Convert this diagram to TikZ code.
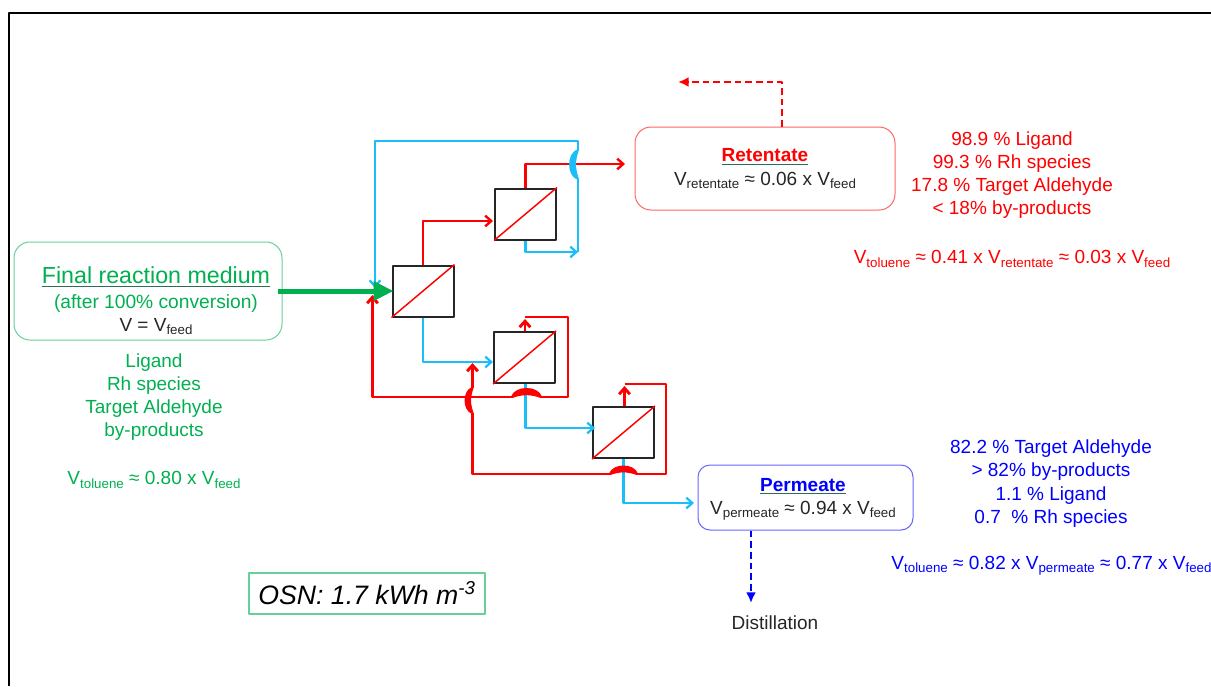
\documentclass[tikz,border=0pt]{standalone}
\usepackage{fontspec}
\setmainfont{Liberation Sans}
\usepackage{tikz}
\usetikzlibrary{arrows.meta}

\definecolor{feedgreen}{HTML}{00B050}
\definecolor{boxgreen}{HTML}{66CF9A}
\definecolor{boxred}{HTML}{FF6565}
\definecolor{boxblue}{HTML}{6565FF}
\definecolor{pipeblue}{HTML}{1CBEFA}
\definecolor{darktext}{HTML}{262626}
\definecolor{linegreen}{HTML}{2F6B55}

\newcommand{\vsub}[1]{\raisebox{-0.32ex}{\fontsize{10}{10}\selectfont #1}}
\newcommand{\headline}[2]{{\color{linegreen}\underline{\textcolor{#1}{#2}}}}

\begin{document}
\begin{tikzpicture}[
            x = 0.75pt,
            y = -0.75pt,
            >={Straight Barb[length=4.5pt, width=8pt]},
            line join = round,
            body/.style = {
                align=center,
                inner sep = 0pt,
                font = \fontsize{14.25}{17.45}\selectfont,
            },
            unit/.style = {
                draw = darktext, rectangle,
                line width = 1.5pt,
                inner sep = 0pt,
                minimum width = 45.75pt,
                minimum height = 38.25pt,
            },
            stream/.style = {
                body,
                draw, rounded corners = 12pt,
                line width = 0.75pt,
            },
            bluepipe/.style = {draw = pipeblue, line width = 1.7pt},
            redpipe/.style = {draw = red, line width = 1.8pt},
            recycle/.style = {draw = red, line width = 2.2pt},
            bluebump/.style = {draw = pipeblue, fill = pipeblue, line width = 1.4pt},
            redbump/.style = {draw = red, fill = red, line width = 1.6pt},
            dashpipe/.style = {line width = 2.2pt, dash pattern = on 5pt off 3pt,
                -{Latex[length = 8pt, width = 7.5pt]}},
        ]
        \useasboundingbox (0, 0) rectangle (1211, 686);

        % Frame
        \coordinate (frame_bottom) at (9, 686);
        \coordinate (frame_corner) at (9, 13);
        \coordinate (frame_right) at (1211, 13);
        \draw[line width = 1.5pt] (frame_bottom) -- (frame_corner) -- (frame_right);

        % Membranes
        \node[unit] (stage_1) at (423, 291) {};
        \node[unit] (stage_2) at (525.5, 214) {};
        \node[unit] (stage_3) at (524.5, 357.5) {};
        \node[unit] (stage_4) at (623.5, 432.5) {};
        \foreach \stage in {stage_1, stage_2, stage_3, stage_4}
            \draw[red, line width = 1.1pt] (\stage.south west) -- (\stage.north east);

        % Streams
        \node[stream, draw = boxgreen, minimum width = 201pt, minimum height = 73.5pt] (final) at (148, 291) {};
        \node[body] (final_label) at (156, 301) {%
            {\color{feedgreen}\fontsize{17.4}{19}\selectfont\headline{feedgreen}{Final reaction medium}}\\[1pt]
            {\color{feedgreen}\fontsize{14.4}{17}\selectfont (after 100\% conversion)}\\
            {\color{darktext}V = V\vsub{feed}}};
        \node[stream, draw = boxred, minimum width = 195pt, minimum height = 62.25pt] (retentate) at (765, 168.5) {%
            {\color{red}\bfseries\headline{red}{Retentate}}\\
            {\color{darktext}V\vsub{retentate} ≈ 0.06 x V\vsub{feed}}};
        \node[stream, draw = boxblue, rounded corners = 9pt, minimum width = 161.25pt, minimum height = 48.75pt] (permeate) at (805.5, 497.5) {};
        \node[body] (permeate_label) at (803, 499.5) {%
            {\color{blue}\bfseries\headline{blue}{Permeate}}\\
            {\color{darktext}V\vsub{permeate} ≈ 0.94 x V\vsub{feed}}};

        % Compositions
        \node[body, text = feedgreen] (feed_list) at (154, 397) {Ligand\\Rh species\\Target Aldehyde\\by-products};
        \node[body, text = feedgreen] (feed_toluene) at (154, 480) {V\vsub{toluene} ≈ 0.80 x V\vsub{feed}};
        \node[body, text = red] (retentate_list) at (1012, 175) {98.9 \% Ligand\\99.3 \% Rh species\\17.8 \% Target Aldehyde\\< 18\% by-products};
        \node[body, text = red] (retentate_toluene) at (1012, 259) {V\vsub{toluene} ≈ 0.41 x V\vsub{retentate} ≈ 0.03 x V\vsub{feed}};
        \node[body, text = blue] (permeate_list) at (1051, 483.5) {82.2 \% Target Aldehyde\\> 82\% by-products\\1.1 \% Ligand\\0.7~~\% Rh species};
        \node[body, text = blue] (permeate_toluene) at (1051.5, 566) {V\vsub{toluene} ≈ 0.82 x V\vsub{permeate} ≈ 0.77 x V\vsub{feed}};
        \node[body, text = darktext] (distillation) at (775, 623) {Distillation};
        \node[draw = boxgreen, line width = 0.9pt, inner sep = 0pt, minimum width = 177pt, minimum height = 30.75pt,
              font = \fontsize{20}{22}\selectfont\itshape] (energy) at (367, 593.5) {OSN: 1.7 kWh m\textsuperscript{-3}};

        % Hulppunten
        \coordinate (top_right) at (578, 141);
        \coordinate (stage_1_blue) at (375, 288);
        \coordinate (stage_1_red) at (372.5, 295);
        \coordinate (recycle_blue) at (578, 252);
        \coordinate (blue_bump_in) at (578, 179);
        \coordinate (blue_bump_out) at (578, 150);
        \coordinate (retentate_in) at (625, 164);
        \coordinate (stage_2_in) at (493, 221);
        \coordinate (stage_3_in) at (493, 362);
        \coordinate (stage_4_in) at (595, 428);
        \coordinate (permeate_in) at (694, 503);
        \coordinate (stage_3_top) at (525, 317);
        \coordinate (stage_3_tip) at (525, 319);
        \coordinate (stage_3_right) at (568, 397);
        \coordinate (bump_3_in) at (541, 397);
        \coordinate (bump_3_out) at (512, 397);
        \coordinate (stage_4_top) at (624.5, 384);
        \coordinate (stage_4_tip) at (624.5, 386);
        \coordinate (stage_4_right) at (666, 474);
        \coordinate (bump_4_in) at (637, 474);
        \coordinate (bump_4_out) at (610, 474);
        \coordinate (bump_v_in) at (472.5, 413);
        \coordinate (bump_v_out) at (472.5, 388);
        \coordinate (return_tip) at (472.5, 363);
        \coordinate (retentate_turn) at (782, 82);
        \coordinate (retentate_end) at (678, 82);
        \coordinate (distillation_in) at (751, 603);

        % Transities
        \draw[bluepipe, ->] (stage_2.south) |- (recycle_blue);
        \draw[bluepipe] (recycle_blue) -- (blue_bump_in);
        \draw[bluepipe, ->] (blue_bump_out) -- (top_right) -| (stage_1_blue);
        \draw[bluepipe, ->] (stage_1.south) |- (stage_3_in);
        \draw[bluepipe, ->] (stage_3.south -| stage_2.south) |- (stage_4_in);
        \draw[bluepipe, ->] (stage_4.south) |- (permeate_in);

        \draw[redpipe, ->] (stage_1.north) |- (stage_2_in);
        \draw[redpipe, ->] (stage_2.north) |- (retentate_in);
        \path[bluebump] (blue_bump_in) to[bend left = 70] (blue_bump_out) to[bend right = 20] (blue_bump_in);

        \draw[recycle, ->] (stage_3.north -| stage_3_top) -- (stage_3_tip);
        \draw[recycle] (stage_3_top) -| (stage_3_right) -- (bump_3_in);
        \draw[recycle, ->] (bump_3_out) -| (stage_1_red);
        \draw[recycle, ->] (stage_4.north -| stage_4_top) -- (stage_4_tip);
        \draw[recycle] (stage_4_top) -| (stage_4_right) -- (bump_4_in);
        \draw[recycle] (bump_4_out) -| (bump_v_in);
        \draw[recycle, ->] (bump_v_out) -- (return_tip);
        \path[redbump] (bump_3_in) to[bend right = 70] (bump_3_out) to[bend left = 20] (bump_3_in);
        \path[redbump] (bump_4_in) to[bend right = 70] (bump_4_out) to[bend left = 20] (bump_4_in);
        \path[redbump] (bump_v_in) to[bend left = 70] (bump_v_out) to[bend right = 20] (bump_v_in);

        \draw[draw = feedgreen, line width = 3.75pt, shorten <= -3.75pt, shorten >= -1.5pt,
              -{Triangle[length = 15pt, width = 14pt]}] (final.east) -- (stage_1.west);

        \draw[dashpipe, draw = red]
            (retentate_turn |- retentate.north) -- (retentate_turn) -- (retentate_end);
        \draw[dashpipe, draw = blue]
            (distillation_in |- permeate.south) -- (distillation_in);
    \end{tikzpicture}
\end{document}
